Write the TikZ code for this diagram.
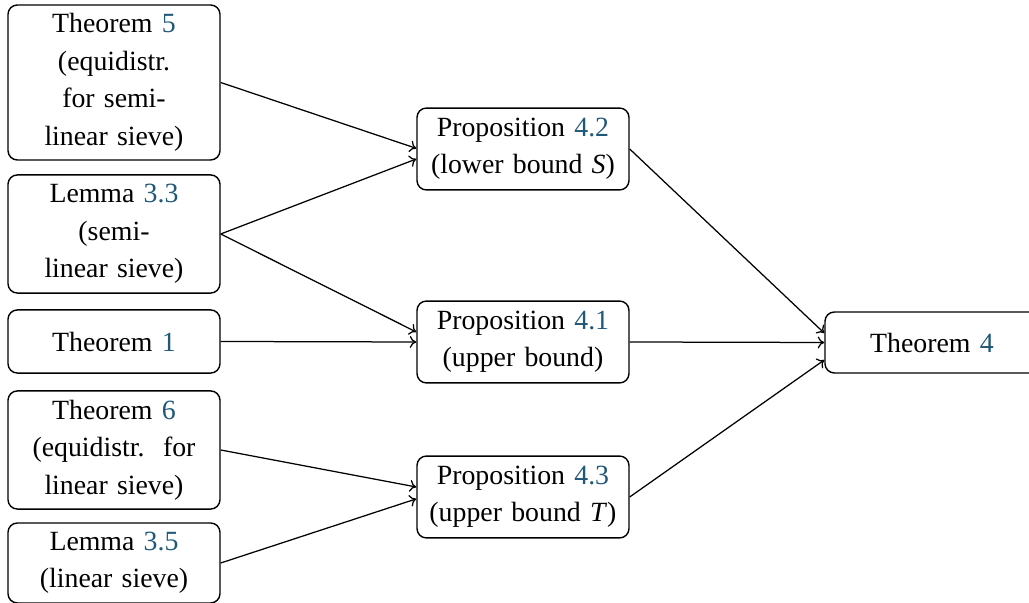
\documentclass[tikz,border=0pt]{standalone}
\usepackage{fontspec}
\setmainfont{Liberation Serif}
\usetikzlibrary{arrows.meta}
\definecolor{refblue}{RGB}{31,88,120}
\newcommand{\refn}[1]{\textcolor{refblue}{#1}}
\tikzset{
  box/.style={draw, rounded corners=3pt, align=center, text width=65.8pt,
    minimum width=67.84pt, inner xsep=1pt, inner ysep=1pt,
    font=\fontsize{8.9}{12}\selectfont, line width=0.45pt},
  conn/.style={-{To[length=2.1pt,width=3.8pt]}, line width=0.4pt}
}
\begin{document}
\begin{tikzpicture}[x=0.32pt, y=-0.32pt]
\useasboundingbox (0,0) rectangle (1029,603);
\clip (0,0) rectangle (1029,603);
\node[box, minimum height=49.6pt] (b1) at (114,82.5) {Theorem \refn{5}\\(equidistr.\\for semi-\\linear sieve)};
\node[box, minimum height=37.8pt] (b2) at (114,234) {Lemma \refn{3.3}\\(semi-\\linear sieve)};
\node[box, minimum height=20.2pt] (b3) at (114,341.5) {Theorem \refn{1}};
\node[box, minimum height=37.8pt] (b4) at (114,450) {Theorem \refn{6}\\(equidistr.\ \ for\\linear sieve)};
\node[box, minimum height=25.6pt] (b5) at (114,563) {Lemma \refn{3.5}\\(linear sieve)};
\node[box, minimum height=26.2pt] (p42) at (523,149) {Proposition \refn{4.2}\\(lower bound \textit{S})};
\node[box, minimum height=26.2pt] (p41) at (523,342) {Proposition \refn{4.1}\\(upper bound)};
\node[box, minimum height=26.2pt] (p43) at (523,497) {Proposition \refn{4.3}\\(upper bound \textit{T})};
\node[box, minimum height=19.5pt, minimum width=68.5pt, text width=66.5pt] (t4) at (932,342.5) {Theorem \refn{4}};
\draw[conn] (b1.east) -- ([yshift=0.2pt]p42.west);
\draw[conn] (b2.east) -- ([yshift=-3.2pt]p42.west);
\draw[conn] (b2.east) -- ([yshift=3.2pt]p41.west);
\draw[conn] (b3.east) -- (p41.west);
\draw[conn] (b4.east) -- ([yshift=3.2pt]p43.west);
\draw[conn] (b5.east) -- ([yshift=-0.6pt]p43.west);
\draw[conn] (p42.east) -- ([yshift=3pt]t4.west);
\draw[conn] (p41.east) -- (t4.west);
\draw[conn] (p43.east) -- ([yshift=-5.6pt]t4.west);
\end{tikzpicture}
\end{document}
